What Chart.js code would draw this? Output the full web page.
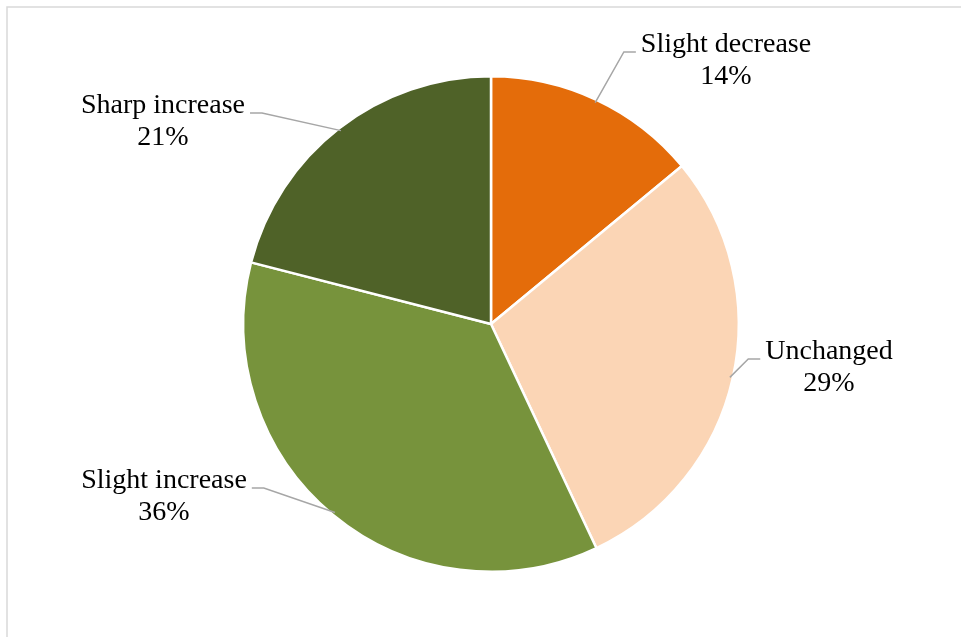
<!DOCTYPE html>
<html>
<head>
<meta charset="utf-8">
<script src="https://cdn.jsdelivr.net/npm/chart.js@4.4.1/dist/chart.umd.min.js"></script>
<style>
  html, body { margin: 0; padding: 0; background: #fff; }
  #wrap { width: 961px; height: 637px; position: relative; }
</style>
</head>
<body>
<div id="wrap"><canvas id="pie"></canvas></div>
<script>
const categories = ['Slight decrease', 'Unchanged', 'Slight increase', 'Sharp increase'];
const shares = [14, 29, 36, 21];
const sliceColors = ['#E46C0A', '#FBD5B5', '#77933C', '#4F6228'];

// where each label block sits, as offsets from the pie centre
const labelOffsets = [[235, -263], [338, 44], [-327, 173], [-328, -202]];
// which side of the text the leader line leaves from
const labelSide = ['left', 'left', 'right', 'right'];

const getById = label => document.getElementById(label);

const frameLines = {
  id: 'frameLines',
  beforeDraw(chart) {
    const ctx = chart.ctx;
    ctx.save();
    ctx.strokeStyle = '#d9d9d9';
    ctx.lineWidth = 1.5;
    ctx.beginPath();
    ctx.moveTo(7, chart.height);
    ctx.lineTo(7, 7);
    ctx.lineTo(chart.width, 7);
    ctx.stroke();
    ctx.restore();
  }
};

const leaderLabels = {
  id: 'leaderLabels',
  afterDatasetsDraw(chart) {
    const ctx = chart.ctx;
    const meta = chart.getDatasetMeta(0);
    ctx.save();
    ctx.font = '28px "Liberation Serif", "Times New Roman", serif';
    ctx.textAlign = 'center';
    ctx.textBaseline = 'middle';
    meta.data.forEach((arc, i) => {
      const {x, y, startAngle, endAngle, outerRadius} = arc.getProps(['x', 'y', 'startAngle', 'endAngle', 'outerRadius'], true);
      const mid = (startAngle + endAngle) / 2;
      const r = outerRadius - 3;
      const ex = x + Math.cos(mid) * r;
      const ey = y + Math.sin(mid) * r;
      const cx = x + labelOffsets[i][0];
      const cy = y + labelOffsets[i][1];
      const name = categories[i];
      const pct = shares[i] + '%';
      const w = ctx.measureText(name).width;
      const lineY = cy - 9;
      const tx = labelSide[i] === 'left' ? cx - w / 2 - 5 : cx + w / 2 + 5;
      const kx = labelSide[i] === 'left' ? tx - 12 : tx + 12;

      ctx.strokeStyle = '#a6a6a6';
      ctx.lineWidth = 1.5;
      ctx.beginPath();
      ctx.moveTo(tx, lineY);
      ctx.lineTo(kx, lineY);
      ctx.lineTo(ex, ey);
      ctx.stroke();

      ctx.fillStyle = '#000';
      ctx.fillText(name, cx, cy - 16);
      ctx.fillText(pct, cx, cy + 16);
    });
    ctx.restore();
  }
};

new Chart(getById('pie').getContext('2d'), {
  type: 'pie',
  data: {
    labels: categories,
    datasets: [{
      data: shares,
      backgroundColor: sliceColors,
      borderColor: '#fff',
      borderWidth: 2.5
    }]
  },
  options: {
    responsive: true,
    maintainAspectRatio: false,
    animation: false,
    layout: { padding: { left: 242, right: 221, top: 75, bottom: 64 } },
    plugins: {
      legend: { display: false },
      tooltip: { enabled: false }
    }
  },
  plugins: [frameLines, leaderLabels]
});
</script>
</body>
</html>
